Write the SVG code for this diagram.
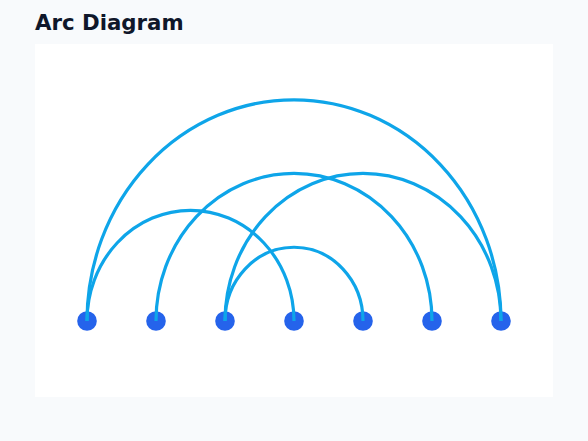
<svg xmlns="http://www.w3.org/2000/svg" width="588" height="441" viewBox="0 0 588 441">
<style>
.title{font-family:"DejaVu Sans",sans-serif;font-weight:bold;font-size:21.3px;fill:#0f172a}
.node{fill:#2563eb}
.arc{fill:none;stroke:#0ea5e9;stroke-width:3.2;stroke-linecap:butt}
</style>
<rect width="588" height="441" fill="#f8fafc"/>
<rect x="35" y="44" width="518" height="353" fill="#ffffff"/>
<text class="title" x="35" y="29.5">Arc Diagram</text>
<g id="n0"><circle class="node" cx="87" cy="321" r="9.8"/></g>
<g id="n1"><circle class="node" cx="156" cy="321" r="9.8"/></g>
<g id="n2"><circle class="node" cx="225" cy="321" r="9.8"/></g>
<g id="n3"><circle class="node" cx="294" cy="321" r="9.8"/></g>
<g id="n4"><circle class="node" cx="363" cy="321" r="9.8"/></g>
<g id="n5"><circle class="node" cx="432" cy="321" r="9.8"/></g>
<g id="n6"><circle class="node" cx="501" cy="321" r="9.8"/></g>
<g id="connectors">
<path class="arc" d="M87 321 A207 221.3 0 0 1 501 321"/>
<path class="arc" d="M87 321 A103.5 110.7 0 0 1 294 321"/>
<path class="arc" d="M156 321 A138 147.6 0 0 1 432 321"/>
<path class="arc" d="M225 321 A138 147.6 0 0 1 501 321"/>
<path class="arc" d="M225 321 A69 73.8 0 0 1 363 321"/>
</g>
</svg>
